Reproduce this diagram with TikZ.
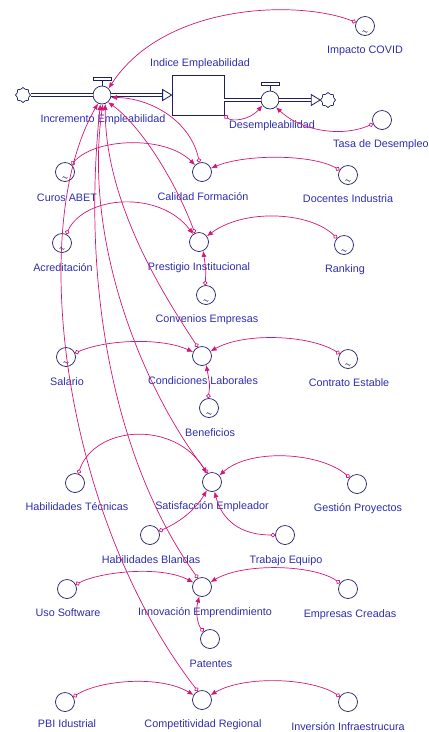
\documentclass[tikz,border=0pt]{standalone}
\usepackage{fontspec}
\setmainfont{Liberation Sans}
\usetikzlibrary{arrows.meta,shapes.symbols}
\definecolor{txtblue}{RGB}{45,45,175}
\definecolor{navy}{RGB}{30,30,100}
\definecolor{conmag}{RGB}{210,22,122}
\begin{document}
\begin{tikzpicture}[x=1pt,y=1pt,
 conv/.style={circle,draw=navy,line width=0.7pt,minimum size=19pt,inner sep=0pt},
 valve/.style={circle,draw=navy,line width=0.7pt,minimum size=18pt,inner sep=0pt},
 cloudn/.style={cloud,cloud puffs=8,draw=navy,line width=0.7pt,minimum width=15pt,minimum height=15pt,inner sep=0pt,aspect=1},
 stockbox/.style={draw=navy,line width=0.8pt,minimum width=52pt,minimum height=40pt,inner sep=0pt},
 lab/.style={text=txtblue,font=\fontsize{10.8}{12}\selectfont,inner sep=0pt,anchor=base},
 pipe/.style={draw=navy,double=white,double distance=2.2pt,line width=0.9pt},
 pipetip/.style={draw=navy,line width=0.8pt,fill=white},
 conn/.style={draw=conmag,line width=0.7pt,arrows={Circle[open,length=4.5pt,width=4.5pt]-Latex[length=6pt,width=5pt]}},
 withtilde/.style={path picture={\draw[navy,line width=0.5pt] ([shift={(-2.5pt,-5.5pt)}]path picture bounding box.center) sin ++(1.25pt,0.9pt) cos ++(1.25pt,-0.9pt) sin ++(1.25pt,-0.9pt) cos ++(1.25pt,0.9pt);}}
]
\useasboundingbox (0,0) rectangle (429,-732);

% flow structure
\node[cloudn] (src) at (23,-95) {};
\node[valve] (inc) at (102,-95) {};
\node[stockbox] (stock) at (198,-95) {};
\node[valve] (des) at (270,-100) {};
\node[cloudn] (snk) at (328,-100) {};
\foreach \v in {inc,des}{
  \draw[navy,line width=0.7pt] (\v.north) -- ++(0,5.5);
  \draw[navy,line width=0.7pt,fill=white] ([shift={(-9pt,5.5pt)}]\v.north) rectangle ([shift={(9pt,8pt)}]\v.north);
}
\draw[pipe] (src.east) -- (inc.west);
\draw[pipe] (inc.east) -- ([xshift=-9pt]stock.west);
\draw[pipetip] ([shift={(-9pt,5.5pt)}]stock.west) -- (stock.west) -- ([shift={(-9pt,-5.5pt)}]stock.west) -- cycle;
\draw[pipe] ([yshift=-5pt]stock.east) -- (des.west);
\draw[pipe] (des.east) -- ([xshift=-9pt]snk.west);
\draw[pipetip] ([shift={(-9pt,5.5pt)}]snk.west) -- (snk.west) -- ([shift={(-9pt,-5.5pt)}]snk.west) -- cycle;

\node[lab] (stockL) at (200,-66) {Indice Empleabilidad};
\node[lab] (incL) at (103,-122) {Incremento Empleabilidad};
\node[lab] (desL) at (272,-128) {Desempleabilidad};

% converters
\node[conv,withtilde] (covid) at (365,-26) {};
\node[lab] (covidL) at (365,-53) {Impacto COVID};
\node[conv] (tasa) at (382,-120) {};
\node[lab,anchor=base west] (tasaL) at (333,-147) {Tasa de Desempleo};

\node[conv,withtilde] (curos) at (65,-172) {};
\node[lab] (curosL) at (67,-201) {Curos ABET};
\node[conv] (calidad) at (202,-172) {};
\node[lab] (calidadL) at (203,-200) {Calidad Formación};
\node[conv,withtilde] (docentes) at (348,-175) {};
\node[lab] (docentesL) at (348,-202) {Docentes Industria};

\node[conv,withtilde] (acred) at (62,-243) {};
\node[lab] (acredL) at (63,-271) {Acreditación};
\node[conv] (prestigio) at (199,-242) {};
\node[lab] (prestigioL) at (199,-270) {Prestigio Institucional};
\node[conv,withtilde] (ranking) at (344,-245) {};
\node[lab] (rankingL) at (345,-272) {Ranking};
\node[conv,withtilde] (convenios) at (206,-295) {};
\node[lab] (conveniosL) at (207,-322) {Convenios Empresas};

\node[conv,withtilde] (salario) at (66,-357) {};
\node[lab] (salarioL) at (67,-385) {Salario};
\node[conv] (condiciones) at (202,-356) {};
\node[lab] (condicionesL) at (203,-384) {Condiciones Laborales};
\node[conv,withtilde] (contrato) at (348,-359) {};
\node[lab] (contratoL) at (349,-386) {Contrato Estable};
\node[conv,withtilde] (beneficios) at (209,-408) {};
\node[lab] (beneficiosL) at (210,-436) {Beneficios};

\node[conv] (habtec) at (75,-483) {};
\node[lab] (habtecL) at (77,-510) {Habilidades Técnicas};
\node[conv] (satisf) at (212,-482) {};
\node[lab] (satisfL) at (212,-509) {Satisfacción Empleador};
\node[conv] (gestion) at (357,-484) {};
\node[lab] (gestionL) at (358,-511) {Gestión Proyectos};
\node[conv] (habblan) at (150,-535) {};
\node[lab] (habblanL) at (151,-563) {Habilidades Blandas};
\node[conv] (trabajo) at (285,-535) {};
\node[lab] (trabajoL) at (286,-563) {Trabajo Equipo};

\node[conv] (uso) at (67,-589) {};
\node[lab] (usoL) at (68,-616) {Uso Software};
\node[conv] (innov) at (202,-587) {};
\node[lab] (innovL) at (205,-615) {Innovación Emprendimiento};
\node[conv] (empresas) at (348,-589) {};
\node[lab] (empresasL) at (350,-617) {Empresas Creadas};
\node[conv] (patentes) at (210,-639) {};
\node[lab] (patentesL) at (211,-667) {Patentes};

\node[conv] (pbi) at (65,-702) {};
\node[lab] (pbiL) at (67,-727) {PBI Idustrial};
\node[conv] (compet) at (202,-700) {};
\node[lab] (competL) at (203,-727) {Competitividad Regional};
\node[conv] (inversion) at (348,-702) {};
\node[lab] (inversionL) at (348,-730) {Inversión Infraestrucura};

% connectors
\draw[conn] (covid) .. controls (300,0) and (165,-2) .. (inc.45);
\draw[conn] (stock.south east) .. controls (232,-122) and (250,-120) .. (des.215);
\draw[conn] (tasa) .. controls (340,-138) and (300,-130) .. (des.-50);

\draw[conn] (curos) .. controls (95,-138) and (165,-135) .. (calidad);
\draw[conn] (docentes) .. controls (312,-154) and (245,-154) .. (calidad);
\draw[conn] (acred) .. controls (85,-195) and (160,-190) .. (prestigio);
\draw[conn] (ranking) .. controls (310,-212) and (245,-208) .. (prestigio);
\draw[conn] (convenios.95) .. controls (206,-270) .. (prestigio.-65);
\draw[conn] (salario) .. controls (105,-340) and (160,-337) .. (condiciones);
\draw[conn] (contrato) .. controls (310,-335) and (245,-332) .. (condiciones);
\draw[conn] (beneficios.95) .. controls (210,-385) .. (condiciones.-65);
\draw[conn] (habtec) .. controls (95,-425) and (175,-420) .. (satisf);
\draw[conn] (gestion) .. controls (320,-452) and (250,-448) .. (satisf);
\draw[conn] (habblan) .. controls (180,-522) and (195,-510) .. (satisf);
\draw[conn] (trabajo) .. controls (240,-535) and (222,-520) .. (satisf);
\draw[conn] (uso) .. controls (100,-572) and (160,-565) .. (innov);
\draw[conn] (empresas) .. controls (315,-565) and (245,-562) .. (innov);
\draw[conn] (patentes) .. controls (198,-625) and (195,-612) .. (innov);
\draw[conn] (pbi) .. controls (100,-680) and (160,-675) .. (compet);
\draw[conn] (inversion) .. controls (312,-678) and (245,-675) .. (compet);

\draw[conn] (calidad.105) .. controls (190,-120) and (150,-98) .. (inc.-15);
\draw[conn] (prestigio.115) .. controls (175,-180) and (140,-125) .. (inc.-50);
\draw[conn] (condiciones.115) .. controls (160,-290) and (105,-200) .. (inc.-70);
\draw[conn] (satisf.115) .. controls (150,-400) and (82,-250) .. (inc.-85);
\draw[conn] (innov.115) .. controls (120,-470) and (80,-300) .. (inc.-100);
\draw[conn] (compet.115) .. controls (65,-520) and (25,-230) .. (inc.-115);
\end{tikzpicture}
\end{document}
